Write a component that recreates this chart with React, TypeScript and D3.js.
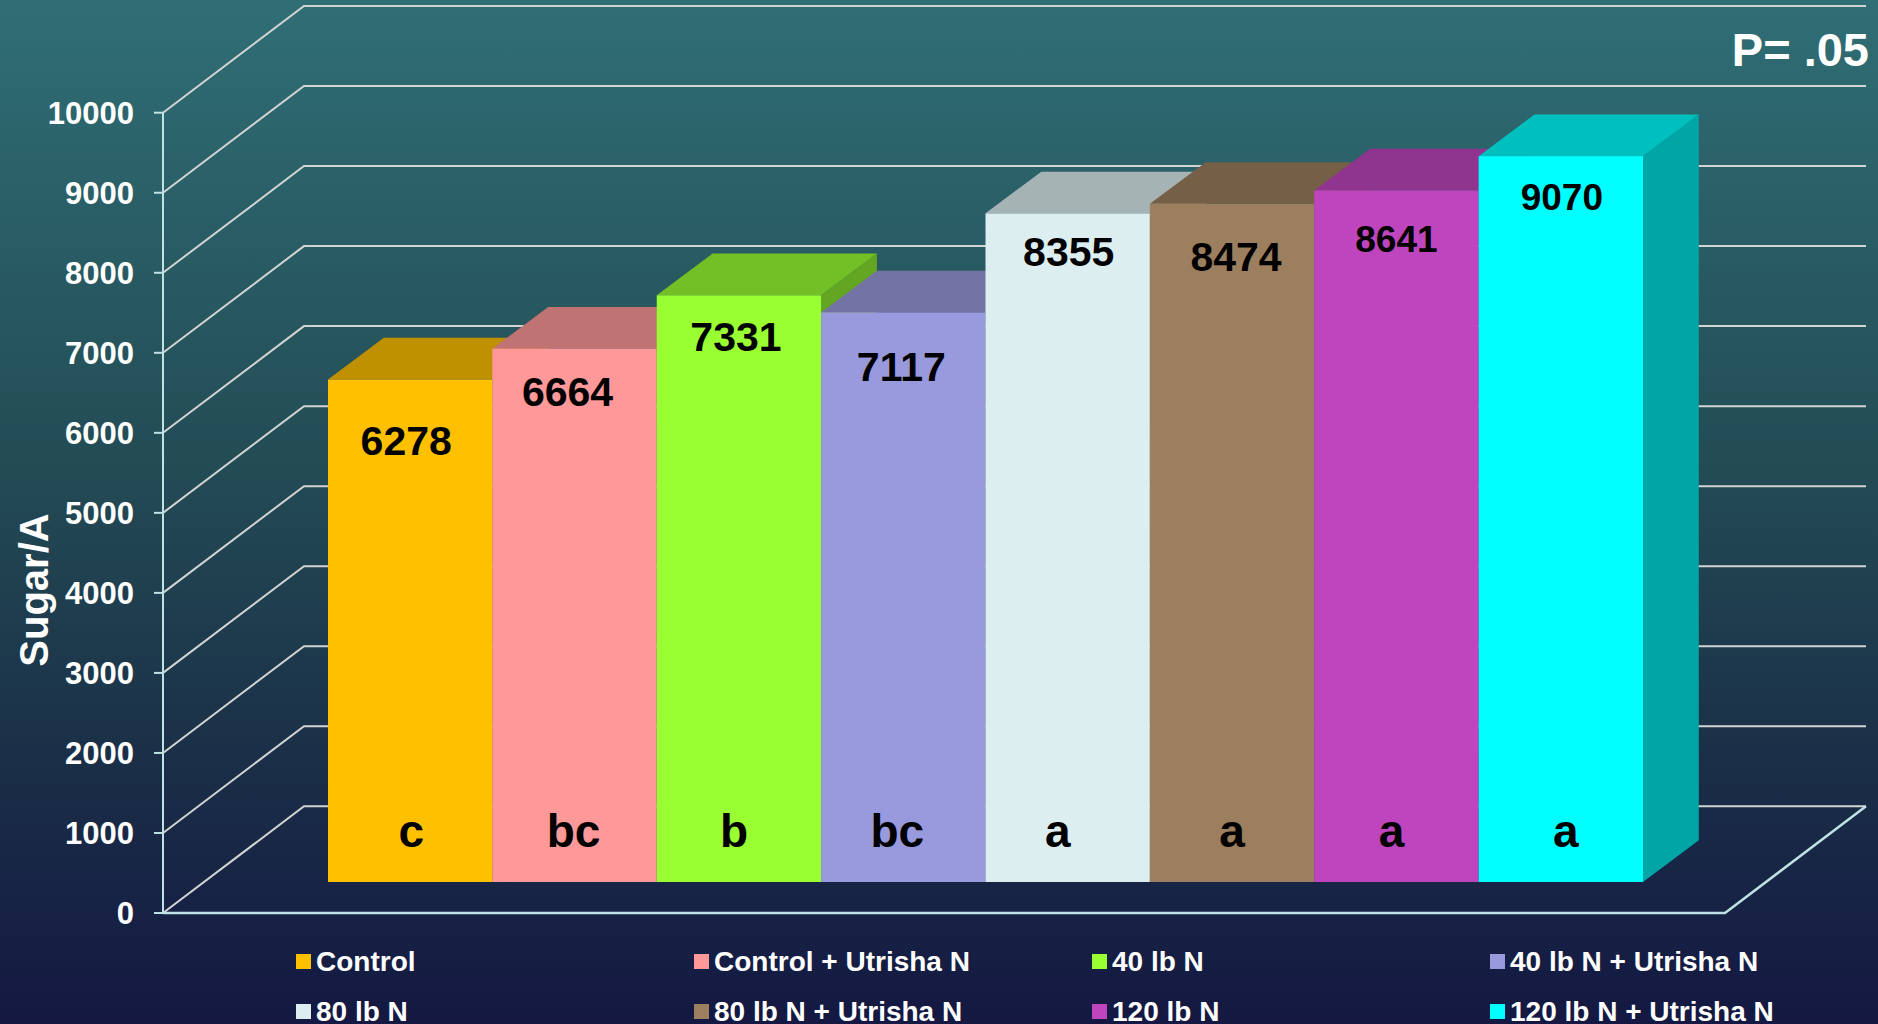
import React from "react";
import * as d3 from "d3";

const categories = [
  "Control",
  "Control + Utrisha N",
  "40 lb N",
  "40 lb N + Utrisha N",
  "80 lb N",
  "80 lb N + Utrisha N",
  "120 lb N",
  "120 lb N + Utrisha N",
];
const values = [6278, 6664, 7331, 7117, 8355, 8474, 8641, 9070];
const letters = ["c", "bc", "b", "bc", "a", "a", "a", "a"];
const colors = ["#FFC000", "#FF9999", "#99FF33", "#9999DD", "#DCEEF0", "#9C7F5E", "#BF45BF", "#00FFFF"];
const yTicks = [0, 1000, 2000, 3000, 4000, 5000, 6000, 7000, 8000, 9000, 10000];

// layout of the hand-placed value labels (offset below bar top, font size, x nudge)
const labelDrop = [75, 57, 56, 69, 53, 67, 62, 54];
const labelSize = [41, 41, 41, 41, 41, 41, 37, 37];
const labelNudge = [-4, -7, -3, -2, 1, 4, 0, 1];
const letterNudge = [1, -1, -5, -6, -10, 0, -5, 5];

const W = 1878;
const H = 1024;
const FONT = "'Liberation Sans', Arial, Helvetica, sans-serif";

export default function App() {
  const y = d3.scaleLinear().domain([0, 10000]).range([913, 112.7]);
  const axisX = 163;
  const wallDX = 141;
  const wallDY = 106.7;
  const rightEnd = 1866;
  const barFrontDY = 31; // bars sit inside the floor depth
  const barDX = 55.8;
  const barDY = 41.7;
  const x = d3.scaleBand<string>().domain(categories).range([328, 1643]).padding(0);
  const yFront = (v: number) => y(v) - barFrontDY;

  const shade = (c: string, k: number) => {
    const col = d3.rgb(c);
    return d3.rgb(col.r * k, col.g * k, col.b * k).formatHex();
  };

  const gridColor = "#D2D4D4";
  const axisColor = "#BFE2E4";

  return (
    <svg
      width={W}
      height={H}
      style={{ position: "fixed", left: 0, top: 0, display: "block" }}
      fontFamily={FONT}
    >
      <defs>
        <linearGradient id="bg" x1="0" y1="0" x2="0" y2="1">
          <stop offset="0" stopColor="#306E75" />
          <stop offset="0.45" stopColor="#234C55" />
          <stop offset="0.75" stopColor="#1A2E47" />
          <stop offset="1" stopColor="#141842" />
        </linearGradient>
      </defs>
      <rect x={0} y={0} width={W} height={H} fill="url(#bg)" />

      {/* back + side wall gridlines */}
      {yTicks.map((v) => (
        <path
          key={"g" + v}
          d={`M${axisX},${y(v)} L${axisX + wallDX},${y(v) - wallDY} L${rightEnd},${y(v) - wallDY}`}
          fill="none"
          stroke={gridColor}
          strokeWidth={2}
        />
      ))}

      {/* floor edges */}
      <path
        d={`M${axisX},${y(0)} L${rightEnd - wallDX},${y(0)} L${rightEnd},${y(0) - wallDY}`}
        fill="none"
        stroke={axisColor}
        strokeWidth={2.5}
      />
      {/* vertical axis */}
      <line x1={axisX} x2={axisX} y1={y(0)} y2={y(10000)} stroke={axisColor} strokeWidth={2} />
      {yTicks.map((v) => (
        <line key={"t" + v} x1={axisX - 9} x2={axisX} y1={y(v)} y2={y(v)} stroke={axisColor} strokeWidth={2} />
      ))}
      {yTicks.map((v) => (
        <text
          key={"l" + v}
          x={134}
          y={y(v) + 11}
          textAnchor="end"
          fontSize={31}
          fontWeight="bold"
          fill="#FFFFFF"
        >
          {v}
        </text>
      ))}

      {/* bars */}
      {categories.map((c, i) => {
        const x0 = x(c)!;
        const x1 = x0 + x.bandwidth();
        const yt = yFront(values[i]);
        const yb = yFront(0);
        const col = colors[i];
        return (
          <g key={"b" + i}>
            <polygon
              points={`${x1},${yt} ${x1 + barDX},${yt - barDY} ${x1 + barDX},${yb - barDY} ${x1},${yb}`}
              fill={shade(col, 0.65)}
            />
            <polygon
              points={`${x0},${yt} ${x0 + barDX},${yt - barDY} ${x1 + barDX},${yt - barDY} ${x1},${yt}`}
              fill={shade(col, 0.75)}
            />
            <rect x={x0} y={yt} width={x1 - x0} height={yb - yt} fill={col} />
          </g>
        );
      })}

      {/* value labels */}
      {categories.map((c, i) => (
        <text
          key={"v" + i}
          x={x(c)! + x.bandwidth() / 2 + labelNudge[i]}
          y={yFront(values[i]) + labelDrop[i]}
          textAnchor="middle"
          fontSize={labelSize[i]}
          fontWeight="bold"
          fill="#000000"
        >
          {values[i]}
        </text>
      ))}

      {/* significance letters */}
      {categories.map((c, i) => (
        <text
          key={"s" + i}
          x={x(c)! + x.bandwidth() / 2 + letterNudge[i]}
          y={847}
          textAnchor="middle"
          fontSize={46}
          fontWeight="bold"
          fill="#000000"
        >
          {letters[i]}
        </text>
      ))}

      {/* axis title */}
      <text
        transform={`translate(48,590) rotate(-90)`}
        textAnchor="middle"
        fontSize={40}
        fontWeight="bold"
        fill="#FFFFFF"
      >
        Sugar/A
      </text>

      <text x={1869} y={66} textAnchor="end" fontSize={47} fontWeight="bold" fill="#FFFFFF">
        P= .05
      </text>

      {/* legend */}
      {categories.map((c, i) => {
        const col = i % 4;
        const row = Math.floor(i / 4);
        const lx = 296 + col * 398;
        const ly = 954 + row * 50;
        return (
          <g key={"lg" + i}>
            <rect x={lx} y={ly} width={15} height={15} fill={colors[i]} />
            <text x={lx + 20} y={ly + 17} fontSize={28} fontWeight="bold" fill="#FFFFFF">
              {c}
            </text>
          </g>
        );
      })}
    </svg>
  );
}
